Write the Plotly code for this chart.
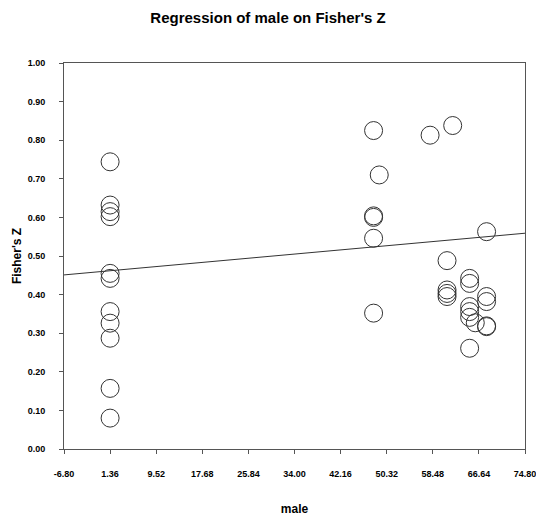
import plotly.graph_objects as go

# Data
male = [1.36]*11 + [48, 48, 48, 48, 48, 49] + [58, 62, 68, 61, 61, 61, 61, 65, 65, 65, 65, 65, 65, 66, 68, 68, 68, 68]
fisher_z = [0.744, 0.632, 0.615, 0.602, 0.455, 0.442, 0.356, 0.326, 0.287, 0.157, 0.080,
            0.825, 0.604, 0.600, 0.546, 0.352, 0.710,
            0.813, 0.838, 0.563, 0.488, 0.412, 0.403, 0.395,
            0.442, 0.429, 0.369, 0.356, 0.341, 0.261, 0.327,
            0.395, 0.382, 0.319, 0.317]

reg_x = [-6.80, 74.80]
reg_y = [0.451, 0.559]

x_ticks = [-6.80, 1.36, 9.52, 17.68, 25.84, 34.00, 42.16, 50.32, 58.48, 66.64, 74.80]
y_ticks = [0.0, 0.1, 0.2, 0.3, 0.4, 0.5, 0.6, 0.7, 0.8, 0.9, 1.0]

FONT = "Liberation Sans, Arial, sans-serif"
AX = "#555555"

fig = go.Figure()
fig.add_trace(go.Scatter(
    x=reg_x, y=reg_y, mode="lines",
    line=dict(color="#333333", width=1), hoverinfo="skip", showlegend=False))
fig.add_trace(go.Scatter(
    x=male, y=fisher_z, mode="markers",
    marker=dict(symbol="circle-open", size=18, color="#333333", line=dict(width=1)),
    showlegend=False))

fig.update_layout(
    width=536, height=517,
    paper_bgcolor="white", plot_bgcolor="white",
    margin=dict(l=64, r=11, t=63, b=68, autoexpand=False),
    title=dict(text="<b>Regression of male on Fisher's Z</b>", x=0.5, xanchor="center",
               y=1 - 18/517, yanchor="middle", automargin=False,
               font=dict(family=FONT, size=15, color="black")),
    font=dict(family=FONT, color="black"),
)
fig.update_xaxes(
    range=[-6.80, 74.8001], tickmode="array", tickvals=x_ticks,
    ticktext=[f"{v:.2f}" for v in x_ticks], automargin=False,
    ticklabeloverflow="allow",
    tickfont=dict(family=FONT, size=9, color="black", weight="bold"),
    ticks="outside", ticklen=4, tickcolor=AX, ticklabelstandoff=12,
    showline=True, linecolor=AX, linewidth=1, mirror=True,
    showgrid=False, zeroline=False,
    title=dict(text="<b>male</b>", font=dict(family=FONT, size=12, color="black"), standoff=26),
)
fig.update_yaxes(
    range=[0, 1.0], tickmode="array", tickvals=y_ticks,
    ticktext=[f"{v:.2f}" for v in y_ticks], automargin=False,
    ticklabeloverflow="allow",
    tickfont=dict(family=FONT, size=9, color="black", weight="bold"),
    ticks="outside", ticklen=4, tickcolor=AX, ticklabelstandoff=12,
    showline=True, linecolor=AX, linewidth=1, mirror=True,
    showgrid=False, zeroline=False,
    title=dict(text="<b>Fisher's Z</b>", font=dict(family=FONT, size=12, color="black"), standoff=3),
)

fig.write_html(
    "out.html",
    config={"displayModeBar": False},
    post_script="document.body.style.margin='0';document.documentElement.style.overflow='hidden';",
)
